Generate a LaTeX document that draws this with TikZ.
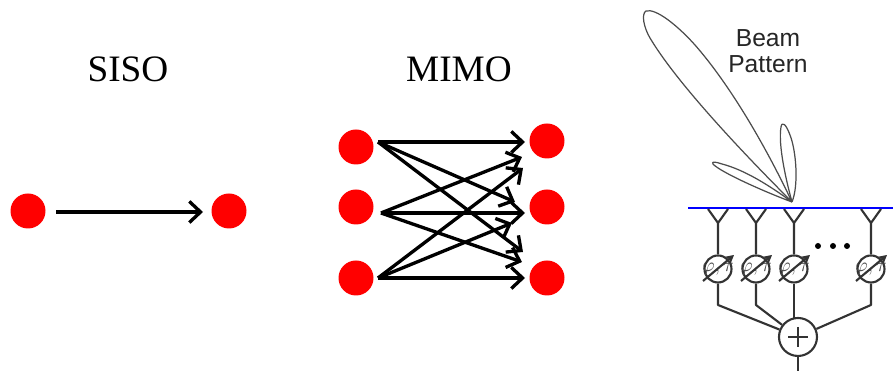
\documentclass[tikz,border=0pt]{standalone}
\usepackage{fontspec}
\setmainfont{Liberation Serif}
\newfontfamily\beamfont{Liberation Sans}
\usetikzlibrary{arrows.meta}
\newcommand{\unitpx}{*0.01cm}
\tikzset{
	redpt/.style={circle,fill=red,inner sep=0pt,minimum size=35\unitpx},
	lobe/.style={draw=black!70,line width=.35pt},
	wire/.style={draw=black!80,line width=.6pt},
	shifter/.style={circle,draw=black!80,line width=.6pt,inner sep=0pt,minimum size=27\unitpx},
	sig/.style={->,line width=.95pt},
}
\begin{document}
\begin{tikzpicture}[x=0.01cm,y=-0.01cm,>={Straight Barb[length=3.2pt,width=6pt]},line join=round,font=\fontsize{10.6}{12}\selectfont]
	\useasboundingbox (0,0) rectangle (893,371);
	% left part
	\node (siso) at (128,69) {SISO};
	\node (mimo) at (459,69) {MIMO};
	\node[redpt] (sa) at (28,211) {};
	\node[redpt] (sb) at (229,211) {};
	\draw[sig] (56,212)coordinate(sc)--(203,212)coordinate(sd);
	\foreach \i/\y in {1/147,2/207,3/278} \node[redpt] (tx\i) at (356,\y) {};
	\foreach \i/\y in {1/141,2/207,3/278} \node[redpt] (rx\i) at (547,\y) {};
	\coordinate (s1) at (378,142);
	\coordinate (s2) at (381,213);
	\coordinate (s3) at (378,278);
	\coordinate (e11) at (525,142);
	\coordinate (e12) at (515,202);
	\coordinate (e13) at (523,252);
	\coordinate (e21) at (522,157);
	\coordinate (e22) at (525,213);
	\coordinate (e23) at (522,262);
	\coordinate (e31) at (523,168);
	\coordinate (e32) at (512,223);
	\coordinate (e33) at (525,278);
	\foreach \i in {1,2,3}
	\foreach \j in {1,2,3}
	\draw[sig] (s\i)--(e\i\j);
	% beam
	\node[font=\beamfont\fontsize{7}{7.4}\selectfont,align=center,text=black!85] (beam) at (768,51) {Beam\\Pattern};
	\coordinate (apex) at (792,202);
	\draw[lobe] (apex) .. controls (765,145) and (730,85) .. (695,45)
	.. controls (678,26) and (656,8) .. (646,11)
	.. controls (641,14) and (644,28) .. (650,38)
	.. controls (675,80) and (735,145) .. (apex);
	\draw[lobe] (apex) .. controls (770,186) and (745,170) .. (722,164)
	.. controls (716,162) and (711,161) .. (713,164)
	.. controls (720,172) and (765,192) .. (apex);
	\draw[lobe] (apex) .. controls (799,185) and (796,150) .. (790,135)
	.. controls (786,124) and (782,121) .. (781,127)
	.. controls (778,145) and (786,180) .. (apex);
	\draw[blue,line width=.8pt] (688,208)coordinate(la)--(893,208)coordinate(lb);
	% array
	\node[circle,wire,inner sep=0pt,minimum size=38\unitpx] (sum) at (798,337) {};
	\draw[wire] (788,337)--(808,337) (798,327)--(798,347) (sum)--(798,371)coordinate(out);
	\foreach \n/\x in {1/718,2/756,3/794,4/871}{
		\node[shifter] (ps\n) at (\x,269) {};
		\node[scale=.5,text=black!70] (pt\n) at (\x,269) {$\varphi,\tau$};
		\coordinate (ant\n) at (\x,223);
		\draw[wire] (\x-10,209)--(ant\n)--(\x+10,209) (ant\n)--(ps\n);
		\draw[wire,-{Stealth[length=2.4pt,width=2.6pt]}] (\x-15,281)--(\x+16,255);
	}
	\draw[wire] (ps1)--(718,305)--(sum);
	\draw[wire] (ps2)--(756,305)--(sum);
	\draw[wire] (ps3)--(794,319);
	\draw[wire] (ps4)--(871,305)--(sum);
	\fill (818,246) circle (3) (833,246) circle (3) (847,246) circle (3);
\end{tikzpicture}
\end{document}
